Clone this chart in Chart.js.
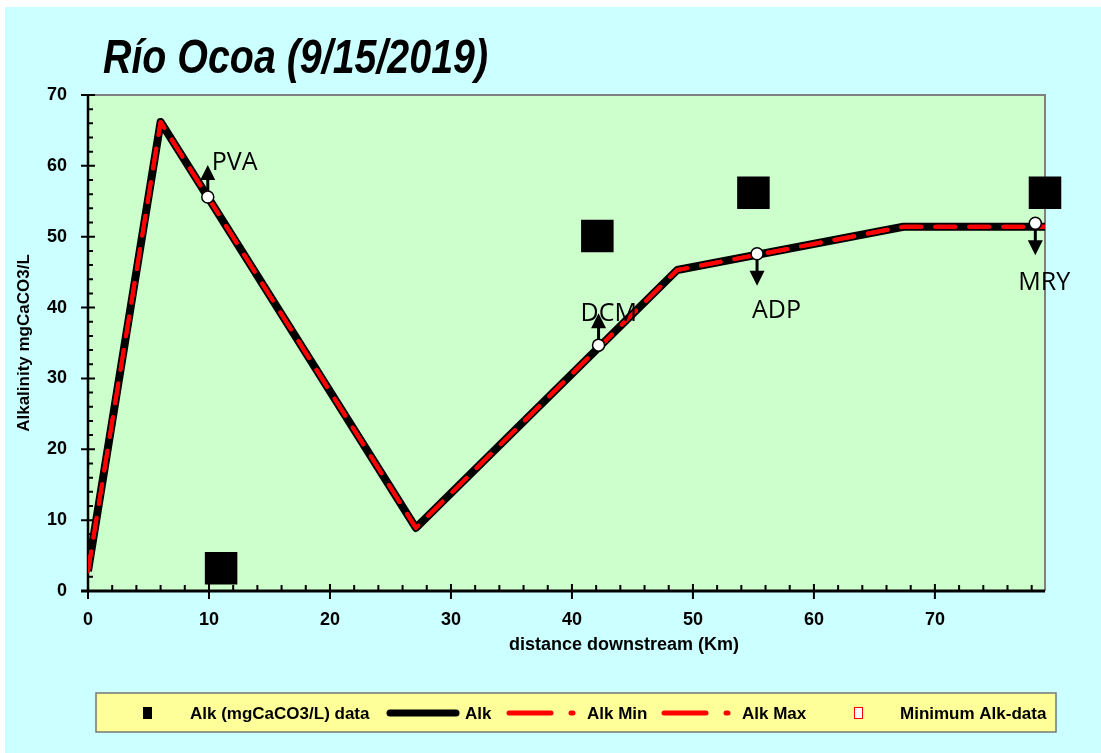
<!DOCTYPE html>
<html lang="es">
<head>
<meta charset="utf-8">
<title>Río Ocoa (9/15/2019)</title>
<script src="https://cdn.jsdelivr.net/npm/chart.js@4.4.1/dist/chart.umd.min.js"></script>
<style>
  html, body { margin: 0; padding: 0; background: #fff; }
  #wrap { width: 1101px; height: 753px; }
</style>
</head>
<body>
<div id="wrap"><canvas id="chart" width="1101" height="753"></canvas></div>
<script>
// model profile (km downstream, mg CaCO3/L)
const alkKm  = [0, 6.0, 27.1, 48.7, 67.4, 79.1];
const alkVal = [2.8, 66.2, 8.9, 45.3, 51.4, 51.4];

// sampled alkalinity
const dataKm  = [11.0, 42.1, 55.0, 79.1];
const dataAlk = [3.2, 50.1, 56.2, 56.2];

// stations with minimum alk
const siteNames = ['PVA', 'DCM', 'ADP', 'MRY'];
const siteKm    = [9.9, 42.2, 55.3, 78.3];
const siteMin   = [55.6, 34.7, 47.6, 51.9];
const siteDir   = ['up', 'up', 'down', 'down'];

const xTicks = [0, 10, 20, 30, 40, 50, 60, 70];
const yTicks = [0, 10, 20, 30, 40, 50, 60, 70];

// pick a condensed face if the machine has one
function hasFont(name) {
  const c = document.createElement('canvas').getContext('2d');
  c.font = '40px monospace';
  const w0 = c.measureText('abcdefghijklmn').width;
  c.font = "40px '" + name + "', monospace";
  return c.measureText('abcdefghijklmn').width !== w0;
}
const narrow = hasFont('Liberation Sans Narrow');
const FACE = narrow ? "'Liberation Sans Narrow'" : "'Liberation Sans'";
const K = narrow ? 1.18 : 1;       // size factor for narrow face
const SQUEEZE = narrow ? 1 : 0.82; // horizontal squeeze for the big title

const pts = (xs, ys) => xs.map((x, i) => ({ x: x, y: ys[i] }));

const backdrop = {
  id: 'backdrop',
  beforeDraw(chart) {
    const { ctx, chartArea: a } = chart;
    ctx.save();
    ctx.fillStyle = '#ffffff';
    ctx.fillRect(0, 0, chart.width, chart.height);
    ctx.fillStyle = '#ccffff';
    ctx.fillRect(5, 7, chart.width - 5, chart.height - 7);
    ctx.fillStyle = '#ccffcc';
    ctx.fillRect(a.left, a.top, a.right - a.left, a.bottom - a.top);
    ctx.restore();
  },
  beforeDatasetsDraw(chart) {
    const { ctx, chartArea: a, scales: { x, y } } = chart;
    ctx.save();
    // gray top and right
    ctx.strokeStyle = '#808080';
    ctx.lineWidth = 2;
    ctx.beginPath();
    ctx.moveTo(a.left, a.top);
    ctx.lineTo(a.right, a.top);
    ctx.lineTo(a.right, a.bottom);
    ctx.stroke();
    // black axes
    ctx.strokeStyle = '#000';
    ctx.lineWidth = 2.5;
    ctx.beginPath();
    ctx.moveTo(a.left, a.top);
    ctx.lineTo(a.left, a.bottom);
    ctx.stroke();
    ctx.lineWidth = 3;
    ctx.beginPath();
    ctx.moveTo(a.left - 7, a.bottom);
    ctx.lineTo(a.right, a.bottom);
    ctx.stroke();
    // ticks, minor every 2
    ctx.lineWidth = 2;
    ctx.beginPath();
    for (let v = 0; v <= x.max + 0.01; v += 2) {
      const px = x.getPixelForValue(v);
      const major = v % 10 === 0;
      ctx.moveTo(px, a.bottom - (major ? 7 : 6));
      ctx.lineTo(px, a.bottom + (major ? 8 : 0));
    }
    for (let v = 0; v <= y.max + 0.01; v += 2) {
      const py = y.getPixelForValue(v);
      const major = v % 10 === 0;
      ctx.moveTo(a.left - (major ? 7 : 0), py);
      ctx.lineTo(a.left + (major ? 7 : 5), py);
    }
    ctx.stroke();
    ctx.restore();
  },
  afterDatasetsDraw(chart) {
    const { ctx, scales: { x, y } } = chart;
    const dx = [4, -18, -5, -17];
    const dy = [-27, -24, 64, 67];
    ctx.save();
    ctx.fillStyle = '#000';
    ctx.strokeStyle = '#000';
    siteNames.forEach((name, i) => {
      const px = x.getPixelForValue(siteKm[i]);
      const py = y.getPixelForValue(siteMin[i]);
      const s = siteDir[i] === 'up' ? -1 : 1;
      const tip = py + s * 32;
      ctx.lineWidth = 3;
      ctx.beginPath();
      ctx.moveTo(px, py + s * 6);
      ctx.lineTo(px, tip - s * 13);
      ctx.stroke();
      ctx.beginPath();
      ctx.moveTo(px, tip);
      ctx.lineTo(px - 7.5, tip - s * 15);
      ctx.lineTo(px + 7.5, tip - s * 15);
      ctx.closePath();
      ctx.fill();
      ctx.font = "25px 'Open Sans', sans-serif";
      ctx.textAlign = 'left';
      ctx.textBaseline = 'alphabetic';
      ctx.fillText(name, px + dx[i], py + dy[i]);
    });
    ctx.restore();
  },
  afterDraw(chart) {
    const { ctx } = chart;
    ctx.save();
    ctx.fillStyle = '#000';
    // title
    ctx.save();
    ctx.translate(103, 73);
    ctx.scale(SQUEEZE, 1);
    ctx.font = 'italic bold 48px ' + FACE + ', sans-serif';
    ctx.textBaseline = 'alphabetic';
    ctx.fillText('Río Ocoa (9/15/2019)', 0, 0);
    ctx.restore();
    // x axis title
    ctx.font = 'bold ' + Math.round(18 * K) + 'px ' + FACE + ', sans-serif';
    ctx.textAlign = 'center';
    ctx.textBaseline = 'middle';
    ctx.fillText('distance downstream (Km)', 624, 645);

    // legend
    const cy = 713;
    ctx.fillStyle = '#ffff99';
    ctx.fillRect(96, 693, 960, 39);
    ctx.strokeStyle = '#777';
    ctx.lineWidth = 1.5;
    ctx.strokeRect(96, 693, 960, 39);

    ctx.fillStyle = '#000';
    ctx.fillRect(143, cy - 6, 9, 12);

    ctx.lineCap = 'round';
    ctx.strokeStyle = '#000';
    ctx.lineWidth = 7;
    ctx.beginPath(); ctx.moveTo(390, cy); ctx.lineTo(456, cy); ctx.stroke();

    ctx.strokeStyle = '#ff0000';
    ctx.lineWidth = 5;
    [[509, 551, 572], [664, 706, 727]].forEach(([a, b, d]) => {
      ctx.beginPath(); ctx.moveTo(a, cy); ctx.lineTo(b, cy); ctx.stroke();
      ctx.beginPath(); ctx.moveTo(d - 1, cy); ctx.lineTo(d + 1, cy); ctx.stroke();
    });
    ctx.lineCap = 'butt';
    ctx.fillStyle = '#fff';
    ctx.fillRect(854, cy - 6, 9, 12);
    ctx.strokeStyle = '#ff0000';
    ctx.lineWidth = 1;
    ctx.strokeRect(854.5, cy - 5.5, 8, 11);

    ctx.fillStyle = '#000';
    ctx.font = 'bold ' + Math.round(17 * K) + 'px ' + FACE + ', sans-serif';
    ctx.textAlign = 'left';
    ctx.textBaseline = 'middle';
    ctx.fillText('Alk (mgCaCO3/L) data', 190, cy + 1);
    ctx.fillText('Alk', 465, cy + 1);
    ctx.fillText('Alk Min', 587, cy + 1);
    ctx.fillText('Alk Max', 742, cy + 1);
    ctx.fillText('Minimum Alk-data', 900, cy + 1);
    ctx.restore();
  }
};

new Chart(document.getElementById('chart'), {
  type: 'scatter',
  data: {
    datasets: [
      {
        label: 'Minimum Alk-data',
        data: pts(siteKm, siteMin),
        pointStyle: 'circle',
        pointRadius: 6,
        pointBackgroundColor: '#ffffff',
        pointBorderColor: '#000000',
        pointBorderWidth: 1.5,
        clip: false,
        order: 0
      },
      {
        label: 'Alk (mgCaCO3/L) data',
        data: pts(dataKm, dataAlk),
        pointStyle: 'rect',
        pointRadius: 23,
        pointBackgroundColor: '#000000',
        pointBorderWidth: 0,
        clip: false,
        order: 1
      },
      {
        label: 'Alk Max',
        data: pts(alkKm, alkVal),
        showLine: true,
        borderColor: '#ff0000',
        borderWidth: 4,
        borderDash: [20, 14],
        borderCapStyle: 'round',
        borderJoinStyle: 'round',
        pointRadius: 0,
        order: 2
      },
      {
        label: 'Alk Min',
        data: pts(alkKm, alkVal),
        showLine: true,
        borderColor: '#ff0000',
        borderWidth: 4,
        borderDash: [20, 14],
        borderCapStyle: 'round',
        borderJoinStyle: 'round',
        pointRadius: 0,
        order: 3
      },
      {
        label: 'Alk',
        data: pts(alkKm, alkVal),
        showLine: true,
        borderColor: '#000000',
        borderWidth: 8,
        borderJoinStyle: 'round',
        pointRadius: 0,
        order: 4
      }
    ]
  },
  options: {
    responsive: false,
    animation: false,
    devicePixelRatio: 1,
    layout: { padding: { left: 0, top: 95, right: 56, bottom: 91 } },
    plugins: {
      legend: { display: false },
      tooltip: { enabled: false }
    },
    scales: {
      x: {
        type: 'linear',
        min: 0,
        max: 79.1,
        afterBuildTicks: s => { s.ticks = xTicks.map(v => ({ value: v })); },
        afterFit: s => { s.height = 71; },
        grid: { display: false, drawTicks: false },
        border: { display: false },
        ticks: {
          padding: 18,
          color: '#000',
          font: { family: FACE, size: Math.round(18 * K), weight: 'bold' },
          maxRotation: 0
        }
      },
      y: {
        type: 'linear',
        min: 0,
        max: 70,
        afterBuildTicks: s => { s.ticks = yTicks.map(v => ({ value: v })); },
        afterFit: s => { s.width = 88; },
        grid: { display: false, drawTicks: false },
        border: { display: false },
        ticks: {
          padding: 21,
          color: '#000',
          font: { family: FACE, size: Math.round(18 * K), weight: 'bold' }
        },
        title: {
          display: true,
          text: 'Alkalinity mgCaCO3/L',
          color: '#000',
          font: { family: FACE, size: Math.round(17 * K), weight: 'bold', lineHeight: 1.2 },
          padding: { top: 14 }
        }
      }
    }
  },
  plugins: [backdrop]
});
</script>
</body>
</html>
